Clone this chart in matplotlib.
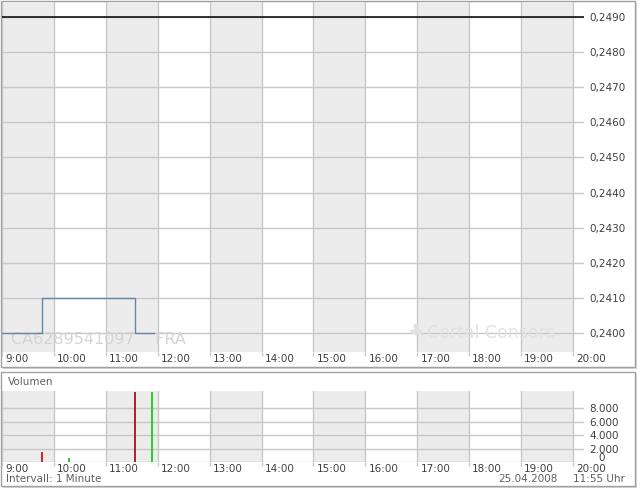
"""Intraday chart CA6289541097 (FRA), 25.04.2008 — price panel plus volume panel."""

import matplotlib
matplotlib.use("Agg")
import matplotlib.pyplot as plt
from matplotlib.patches import Rectangle
from matplotlib.transforms import blended_transform_factory

W, H = 640, 492

# data
hours = [9, 10, 11, 12, 13, 14, 15, 16, 17, 18, 19, 20]
hour_labels = [f"{h}:00" for h in hours]
price_times = [9.0, 9.77, 11.56, 11.92]
price_values = [0.2400, 0.2410, 0.2400, 0.2400]
prev_close = 0.2490
price_ticks = [0.2400, 0.2410, 0.2420, 0.2430, 0.2440, 0.2450,
               0.2460, 0.2470, 0.2480, 0.2490]
vol_times = [9.775, 10.29, 11.56, 11.89]
vol_values = [1550, 530, 10400, 10400]
vol_colors = ["#d00000", "#00c000", "#a00000", "#00cc00"]
vol_ticks = [2000, 4000, 6000, 8000]

BAND = "#ececec"
GRID = "#c8c8c8"
TXT = "#404040"
XMAX = 20.212


def px_axes(fig, x0, y0, x1, y1):
    return fig.add_axes([x0 / W, 1 - y1 / H, (x1 - x0) / W, (y1 - y0) / H])


def frame(fig, x0, y0, x1, y1):
    # soft shadow, then the white panel with gray border
    fig.patches.append(Rectangle(((x0 + 2) / W, 1 - (y1 + 2) / H), (x1 - x0) / W, (y1 - y0) / H,
                                 transform=fig.transFigure, facecolor="#d8d8d8",
                                 edgecolor="none", zorder=-3))
    fig.patches.append(Rectangle((x0 / W, 1 - y1 / H), (x1 - x0) / W, (y1 - y0) / H,
                                 transform=fig.transFigure, facecolor="white",
                                 edgecolor="#a0a0a0", linewidth=1, zorder=-2))


def base_axes(ax):
    for h in hours[:-1:2]:
        ax.axvspan(h, h + 1, color=BAND, lw=0, zorder=0)
    for h in hours:
        ax.axvline(h, color=GRID, lw=1, zorder=1)
    ax.set_xlim(9, XMAX)
    ax.set_xticks(hours)
    ax.set_xticklabels([])
    ax.tick_params(axis="x", direction="out", length=3, color=GRID, width=1)
    for s in ax.spines.values():
        s.set_visible(False)
    ax.patch.set_alpha(0)
    ax.yaxis.tick_right()
    ax.tick_params(axis="y", length=0, pad=4, labelsize=7.5, labelcolor=TXT)
    return blended_transform_factory(ax.transData, ax.transAxes)


fig = plt.figure(figsize=(W / 100, H / 100), dpi=100)
frame(fig, 0.5, 0.5, 635, 367)
frame(fig, 0.5, 372, 635, 486)

# price panel
ax = px_axes(fig, 2, 2, 584, 352)
tr = base_axes(ax)
for v in price_ticks:
    ax.axhline(v, color=GRID, lw=1, zorder=1)
ax.axhline(prev_close, color="black", lw=1.1, zorder=3)
ax.step(price_times, price_values, where="post", color="#6a84b0", lw=1, zorder=4)
ax.set_ylim(0.239455, 0.249430)
ax.set_yticks(price_ticks)
ax.set_yticklabels([f"{v:.4f}".replace(".", ",") for v in price_ticks])
for h, lab in zip(hours, hour_labels):
    ax.text(h + 0.06, -0.006, lab, transform=tr, ha="left", va="top",
            fontsize=7.5, color=TXT)
ax.text(9.18, 0.036, "CA6289541097    FRA", transform=tr, fontsize=11.5,
        color="#d4d4d4", va="center", ha="left", zorder=2)
ax.text(16.98, 0.055, "\u2663", transform=tr, fontsize=13, color="#e2e2e2",
        va="center", ha="center", zorder=2)
ax.text(17.18, 0.055, "Cortal Consors", transform=tr, fontsize=12.5,
        color="#e2e2e2", va="center", ha="left", zorder=2)

# volume panel
fig.text(8 / W, 1 - 382 / H, "Volumen", fontsize=7.5, color="#606060", va="center")
av = px_axes(fig, 2, 391, 584, 462)
trv = base_axes(av)
av.axhline(0, color=GRID, lw=1, zorder=1)
for v in vol_ticks:
    av.axhline(v, color=GRID, lw=1, zorder=1)
av.vlines(vol_times, 0, vol_values, colors=vol_colors, lw=1.2, zorder=4)
av.set_ylim(0, 10550)
av.set_yticks(vol_ticks)
av.set_yticklabels([f"{v:,}".replace(",", ".") for v in vol_ticks])
fig.text(598 / W, 1 - 458 / H, "0", fontsize=7.5, color=TXT, va="center", ha="left")
for h, lab in zip(hours, hour_labels):
    av.text(h + 0.06, -0.03, lab, transform=trv, ha="left", va="top",
            fontsize=7.5, color=TXT)
fig.text(6 / W, 1 - 479 / H, "Intervall: 1 Minute", fontsize=7.5, color="#606060", va="center")
fig.text(558 / W, 1 - 479 / H, "25.04.2008", fontsize=7.5, color="#606060", va="center", ha="right")
fig.text(625 / W, 1 - 479 / H, "11:55 Uhr", fontsize=7.5, color="#606060", va="center", ha="right")

fig.savefig("out.png", dpi=100)
